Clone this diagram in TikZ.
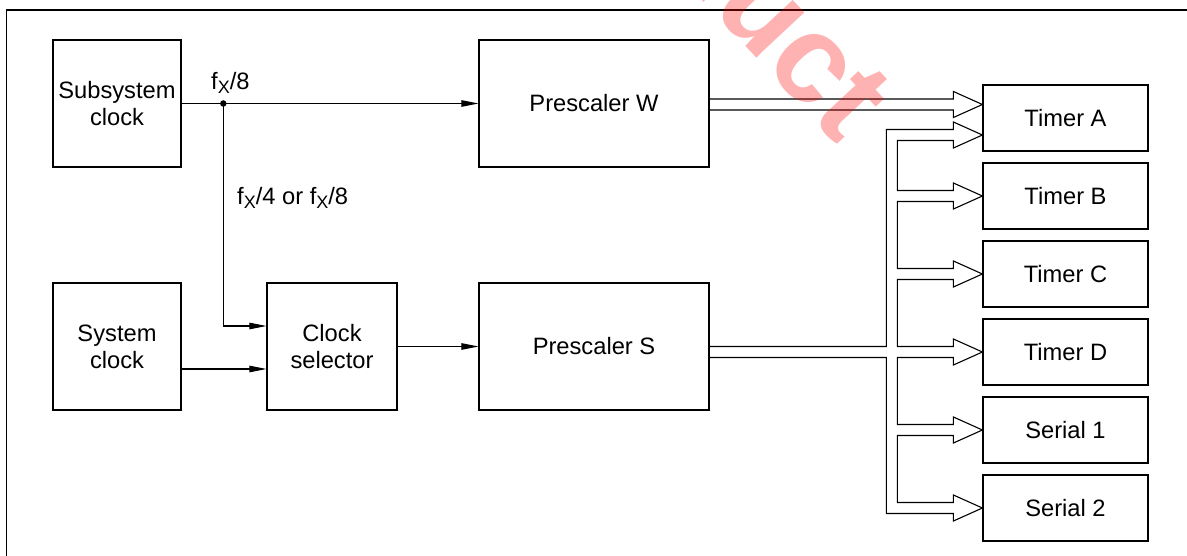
\documentclass[tikz,border=0pt]{standalone}
\usepackage{fontspec}
\setmainfont{Liberation Sans}
\usetikzlibrary{calc,arrows.meta}
\newcommand{\fx}{f\raisebox{-4pt}{\fontsize{18}{18}\selectfont X}}
\begin{document}
\begin{tikzpicture}[x=1pt,y=-1pt,
  box/.style={draw, line width=1.2pt, inner sep=0pt, align=center, font=\fontsize{23.7}{27}\selectfont},
  blk/.style={box, minimum width=128pt, minimum height=127pt},
  wide/.style={box, minimum width=230pt, minimum height=127pt},
  tmr/.style={box, minimum width=165pt, minimum height=66pt},
  arr/.style={line width=1.1pt, -{Triangle[length=17pt,width=6.5pt]}},
  bus/.style={line width=1.1pt, line join=miter},
  lbl/.style={inner sep=0pt, font=\fontsize{23.7}{27}\selectfont, anchor=base west},
  frame/.style={line width=1.3pt}]
\useasboundingbox (0,0) rectangle (1187,556);
\coordinate (f1) at (6.5,556);
\coordinate (f2) at (6.5,10);
\coordinate (f3) at (1187,10);
\draw[frame] (f1) -- (f2) -- (f3);

\node[blk] (sub) at (117,103.5) {Subsystem\\clock};
\node[blk] (sys) at (117,346.5) {System\\clock};
\node[box, minimum width=130pt, minimum height=127pt] (sel) at (332,346.5) {Clock\\selector};
\node[wide] (pw) at (594,103.5) {Prescaler W};
\node[wide] (ps) at (594,346.5) {Prescaler S};

\node[tmr] (tA) at (1065.5,118) {Timer A};
\node[tmr] (tB) at (1065.5,196) {Timer B};
\node[tmr] (tC) at (1065.5,274) {Timer C};
\node[tmr] (tD) at (1065.5,352) {Timer D};
\node[tmr] (tS1) at (1065.5,430) {Serial 1};
\node[tmr] (tS2) at (1065.5,508) {Serial 2};

\node[circle, fill, inner sep=0pt, minimum size=6.5pt] (J) at (223.3,103.5) {};
\node[lbl] (l8) at (211,90) {\fx/8};
\node[lbl] (l48) at (237,205) {\fx/4 or \fx/8};

\draw[arr] (sub.east) -- (pw.west);
\draw[arr] (J.center) |- ($(sel.west)+(0,-20.5)$);
\draw[arr] ($(sys.east)+(0,22.5)$) -- ($(sel.west)+(0,22.5)$);
\draw[arr] (sel.east) -- (ps.west);

% W bus
\coordinate (wt) at ($(tA.west)+(0,-13.5)$);
\coordinate (wb) at (pw.east |- wt);
\draw[bus] ($(wb)+(0,-5.5)$) -- ($(wt)+(-29,-5.5)$) -- ($(wt)+(-29,-13)$) -- (wt)
  -- ($(wt)+(-29,13)$) -- ($(wt)+(-29,5.5)$) -- ($(wb)+(0,5.5)$);

% S bus
\coordinate (sU) at ($(tD.west)+(0,-5.5)$);
\coordinate (sL) at ($(tD.west)+(0,5.5)$);
\coordinate (psU) at (ps.east |- sU);
\coordinate (psL) at (ps.east |- sL);
\coordinate (ta) at ($(tA.west)+(0,17)$);
\draw[bus] (psU) -- ($(sU)+(-96,0)$) -- ($(ta)+(-96,-5.5)$) -- ($(ta)+(-29,-5.5)$)
  -- ($(ta)+(-29,-13)$) -- (ta) -- ($(ta)+(-29,13)$) -- ($(ta)+(-29,5.5)$) -- ($(ta)+(-85,5.5)$)
  \foreach \n in {tB,tC,tD,tS1} {
   -- ($(\n.west)+(-85,-5.5)$) -- ($(\n.west)+(-29,-5.5)$) -- ($(\n.west)+(-29,-13)$) -- (\n.west)
   -- ($(\n.west)+(-29,13)$) -- ($(\n.west)+(-29,5.5)$) -- ($(\n.west)+(-85,5.5)$) }
  -- ($(tS2.west)+(-85,-5.5)$) -- ($(tS2.west)+(-29,-5.5)$) -- ($(tS2.west)+(-29,-13)$) -- (tS2.west)
  -- ($(tS2.west)+(-29,13)$) -- ($(tS2.west)+(-29,5.5)$) -- ($(tS2.west)+(-96,5.5)$)
  -- ($(sL)+(-96,0)$) -- (psL);

% watermark
\begin{scope}
\clip (0,0) rectangle (1187,556);
\node[rotate=-47, anchor=base east, inner sep=0pt, text=red, text opacity=0.3,
  font=\fontsize{125}{125}\selectfont\bfseries] (wm) at (838,146) {Product};
\end{scope}
\end{tikzpicture}
\end{document}
